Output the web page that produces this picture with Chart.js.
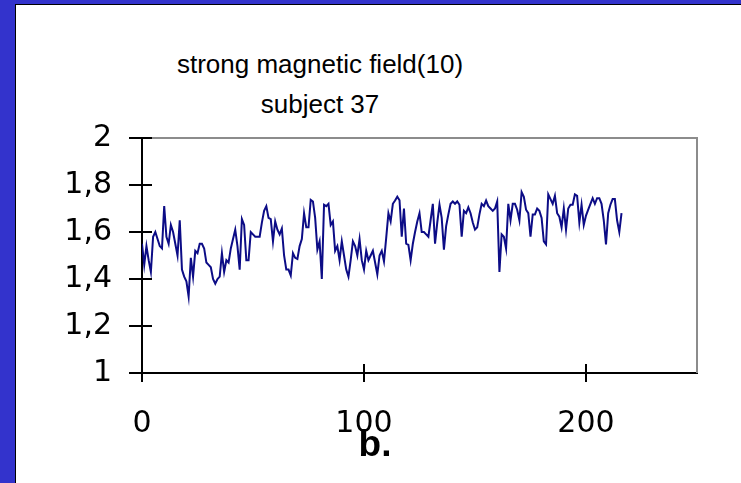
<!DOCTYPE html>
<html>
<head>
<meta charset="utf-8">
<script src="https://cdn.jsdelivr.net/npm/chart.js@4/dist/chart.umd.min.js"></script>
<style>
  html, body { margin: 0; padding: 0; }
  body { width: 741px; height: 483px; position: relative; overflow: hidden; background: #fff; font-family: "Liberation Sans", Arial, sans-serif; }
  #frame { position: absolute; left: 0; top: 0; width: 741px; height: 483px; box-sizing: border-box;
           border-left: 15px solid #3333cc; border-top: 4px solid #3333cc; }
  #inner { position: absolute; left: 0; top: 0; right: 0; bottom: 0; border-left: 1px solid #000; border-top: 1px solid #000; }
  #title { position: absolute; left: 120px; width: 400px; top: 44px; text-align: center; font-size: 26px; line-height: 40px; color: #000; }
  #label { position: absolute; left: 325px; width: 100px; top: 425px; text-align: center; font-size: 37px; line-height: 37px; font-weight: bold; color: #000; }
  #wrap { position: absolute; left: 0; top: 0; width: 741px; height: 483px; }
</style>
</head>
<body>
<div id="frame"><div id="inner"></div></div>
<div id="title">strong magnetic field(10)<br>subject 37</div>
<div id="wrap"><canvas id="magChart" width="741" height="483"></canvas></div>
<div id="label">b.</div>
<script>
  // sample values, one per sample index 0..216
  const values = [
    1.55, 1.46, 1.54, 1.48, 1.43, 1.58, 1.60, 1.57, 1.54, 1.53,
    1.71, 1.58, 1.55, 1.63, 1.60, 1.55, 1.50, 1.65, 1.44, 1.41,
    1.39, 1.325, 1.49, 1.41, 1.52, 1.51, 1.55, 1.55, 1.53, 1.47,
    1.46, 1.45, 1.40, 1.38, 1.40, 1.41, 1.51, 1.43, 1.48, 1.47,
    1.53, 1.57, 1.61, 1.54, 1.44, 1.655, 1.63, 1.48, 1.48, 1.60,
    1.59, 1.58, 1.58, 1.58, 1.64, 1.69, 1.71, 1.66, 1.655, 1.56,
    1.645, 1.61, 1.59, 1.615, 1.50, 1.44, 1.44, 1.415, 1.51, 1.49,
    1.485, 1.54, 1.57, 1.68, 1.62, 1.62, 1.737, 1.73, 1.66, 1.525,
    1.56, 1.40, 1.716, 1.71, 1.72, 1.63, 1.645, 1.52, 1.54, 1.48,
    1.56, 1.50, 1.44, 1.41, 1.48, 1.56, 1.54, 1.50, 1.57, 1.48,
    1.44, 1.52, 1.48, 1.50, 1.52, 1.47, 1.42, 1.50, 1.52, 1.475,
    1.575, 1.68, 1.645, 1.72, 1.734, 1.75, 1.735, 1.58, 1.70, 1.55,
    1.545, 1.48, 1.55, 1.60, 1.645, 1.68, 1.60, 1.60, 1.59, 1.58,
    1.65, 1.72, 1.55, 1.64, 1.716, 1.66, 1.525, 1.625, 1.675, 1.72,
    1.73, 1.72, 1.73, 1.716, 1.58, 1.69, 1.68, 1.705, 1.68, 1.64,
    1.61, 1.62, 1.675, 1.72, 1.71, 1.734, 1.71, 1.70, 1.69, 1.70,
    1.73, 1.43, 1.59, 1.58, 1.53, 1.72, 1.65, 1.72, 1.72, 1.695,
    1.65, 1.77, 1.75, 1.695, 1.68, 1.58, 1.675, 1.675, 1.70, 1.69,
    1.66, 1.56, 1.547, 1.76, 1.74, 1.72, 1.754, 1.68, 1.665, 1.62,
    1.70, 1.61, 1.70, 1.716, 1.716, 1.76, 1.754, 1.64, 1.716, 1.63,
    1.67, 1.695, 1.72, 1.744, 1.72, 1.744, 1.744, 1.72, 1.65, 1.547,
    1.68, 1.716, 1.74, 1.74, 1.65, 1.60, 1.68
  ];
  const xTicks = [0, 100, 200];
  const yTicks = [1, 1.2, 1.4, 1.6, 1.8, 2];

  const tickFont = { family: '"DejaVu Sans", sans-serif', size: 30 };

  // ticks in the original cross the axis, chart.js only draws the outer half
  const innerTicks = {
    id: 'innerTicks',
    afterDraw(chart) {
      const ctx = chart.ctx;
      const area = chart.chartArea;
      const x = chart.scales.x;
      const y = chart.scales.y;
      ctx.save();
      // gray frame on top and right
      ctx.strokeStyle = '#8c8c8c';
      ctx.lineWidth = 2;
      ctx.beginPath();
      ctx.moveTo(area.left, area.top);
      ctx.lineTo(area.right, area.top);
      ctx.lineTo(area.right, area.bottom);
      ctx.stroke();
      ctx.strokeStyle = '#000';
      ctx.beginPath();
      y.ticks.forEach((t) => {
        const py = y.getPixelForValue(t.value);
        ctx.moveTo(area.left, py);
        ctx.lineTo(area.left + 10, py);
      });
      x.ticks.forEach((t) => {
        const px = x.getPixelForValue(t.value);
        ctx.moveTo(px, area.bottom);
        ctx.lineTo(px, area.bottom - 9);
      });
      ctx.stroke();
      ctx.restore();
    }
  };

  const chartElement = document.getElementById('magChart');
  new Chart(chartElement, {
    type: 'line',
    data: {
      datasets: [{
        data: values.map((v, i) => ({ x: i, y: v })),
        borderColor: '#0c0c86',
        borderWidth: 2,
        pointRadius: 0,
        tension: 0,
        fill: false
      }]
    },
    options: {
      responsive: false,
      animation: false,
      events: [],
      layout: { padding: { left: 0, right: 44, top: 138, bottom: 0 } },
      plugins: {
        legend: { display: false },
        title: { display: false },
        tooltip: { enabled: false }
      },
      scales: {
        x: {
          type: 'linear',
          min: 0,
          max: 250,
          afterBuildTicks: (scale) => { scale.ticks = xTicks.map((v) => ({ value: v })); },
          afterFit: (scale) => { scale.height = 110; },
          grid: { drawOnChartArea: false, color: '#000', lineWidth: 2, tickLength: 9 },
          border: { color: '#000', width: 2 },
          ticks: { color: '#000', font: tickFont, padding: 24, maxRotation: 0 }
        },
        y: {
          min: 1,
          max: 2,
          afterBuildTicks: (scale) => { scale.ticks = yTicks.map((v) => ({ value: v })); },
          afterFit: (scale) => { scale.width = 142; },
          grid: { drawOnChartArea: false, color: '#000', lineWidth: 2, tickLength: 13 },
          border: { color: '#000', width: 2 },
          ticks: {
            color: '#000',
            font: tickFont,
            padding: 17,
            callback: (v) => Number.isInteger(v) ? String(v) : v.toFixed(1).replace('.', ',')
          }
        }
      }
    },
    plugins: [innerTicks]
  });
</script>
</body>
</html>
